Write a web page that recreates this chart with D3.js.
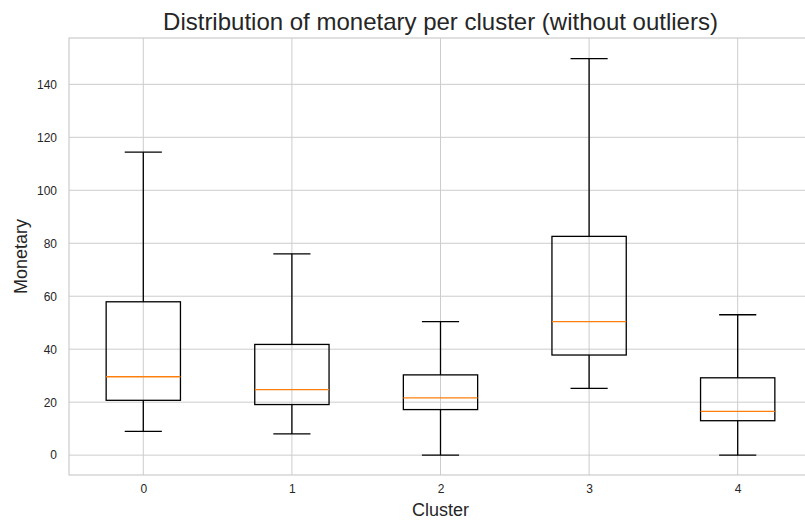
<!DOCTYPE html>
<html>
<head>
<meta charset="utf-8">
<script src="https://cdn.jsdelivr.net/npm/d3@7"></script>
<style>
  body { margin: 0; background: #fff; }
  svg { display: block; font-family: "Liberation Sans", Arial, sans-serif; }
</style>
</head>
<body>
<div id="chart"></div>
<script>
// box statistics per cluster
const clusters = ["0", "1", "2", "3", "4"];
const whiskerLow = [9.0, 8.0, 0.0, 25.2, 0.0];
const q1 = [20.7, 19.1, 17.2, 37.8, 13.0];
const median = [29.6, 24.7, 21.6, 50.4, 16.5];
const q3 = [57.9, 41.8, 30.3, 82.6, 29.2];
const whiskerHigh = [114.4, 76.0, 50.4, 149.7, 53.0];
const yTicks = [0, 20, 40, 60, 80, 100, 120, 140];

var width = 805, height = 521;
var plotLeft = 69, plotRight = 812, plotTop = 38, plotBottom = 475;

var svg = d3.select("#chart").append("svg")
    .attr("width", width)
    .attr("height", height);

// matplotlib-style positions 1..n, xlim [0.5, n+0.5]
var x = d3.scaleLinear()
    .domain([0.5, clusters.length + 0.5])
    .range([plotLeft, plotRight]);
var y = d3.scaleLinear()
    .domain([-7.5, 157.5])
    .range([plotBottom, plotTop]);

var boxW = x(1.25) - x(1);   // half width 0.25
var capW = x(1.125) - x(1);  // half width 0.125

// grid
svg.append("g").selectAll("line")
    .data(yTicks).enter().append("line")
    .attr("x1", plotLeft).attr("x2", plotRight)
    .attr("y1", d => y(d)).attr("y2", d => y(d))
    .attr("stroke", "#cccccc").attr("stroke-width", 1);
svg.append("g").selectAll("line")
    .data(clusters).enter().append("line")
    .attr("x1", (d, i) => x(i + 1)).attr("x2", (d, i) => x(i + 1))
    .attr("y1", plotTop).attr("y2", plotBottom)
    .attr("stroke", "#cccccc").attr("stroke-width", 1);

// frame
svg.append("rect")
    .attr("x", plotLeft).attr("y", plotTop)
    .attr("width", plotRight - plotLeft).attr("height", plotBottom - plotTop)
    .attr("fill", "none").attr("stroke", "#cccccc").attr("stroke-width", 1.2);

// axes (labels only, no tick marks)
var yAxis = svg.append("g")
    .attr("transform", "translate(" + plotLeft + ",0)")
    .call(d3.axisLeft(y).tickValues(yTicks).tickSize(0).tickPadding(12));
var xAxis = svg.append("g")
    .attr("transform", "translate(0," + plotBottom + ")")
    .call(d3.axisBottom(x).tickValues(d3.range(1, clusters.length + 1))
        .tickFormat((d) => clusters[d - 1]).tickSize(0).tickPadding(9));
[yAxis, xAxis].forEach(function (a) {
    a.select(".domain").remove();
    a.selectAll("text")
        .attr("fill", "#262626")
        .style("font-size", "12px")
        .style("font-family", "'Liberation Sans', Arial, sans-serif");
});

// boxes
var g = svg.append("g").selectAll("g")
    .data(clusters).enter().append("g");

g.append("line") // lower whisker
    .attr("x1", (d, i) => x(i + 1)).attr("x2", (d, i) => x(i + 1))
    .attr("y1", (d, i) => y(whiskerLow[i])).attr("y2", (d, i) => y(q1[i]))
    .attr("stroke", "#000").attr("stroke-width", 1.3);
g.append("line") // upper whisker
    .attr("x1", (d, i) => x(i + 1)).attr("x2", (d, i) => x(i + 1))
    .attr("y1", (d, i) => y(q3[i])).attr("y2", (d, i) => y(whiskerHigh[i]))
    .attr("stroke", "#000").attr("stroke-width", 1.3);
g.append("line") // lower cap
    .attr("x1", (d, i) => x(i + 1) - capW).attr("x2", (d, i) => x(i + 1) + capW)
    .attr("y1", (d, i) => y(whiskerLow[i])).attr("y2", (d, i) => y(whiskerLow[i]))
    .attr("stroke", "#000").attr("stroke-width", 1.3);
g.append("line") // upper cap
    .attr("x1", (d, i) => x(i + 1) - capW).attr("x2", (d, i) => x(i + 1) + capW)
    .attr("y1", (d, i) => y(whiskerHigh[i])).attr("y2", (d, i) => y(whiskerHigh[i]))
    .attr("stroke", "#000").attr("stroke-width", 1.3);
g.append("rect")
    .attr("x", (d, i) => x(i + 1) - boxW)
    .attr("y", (d, i) => y(q3[i]))
    .attr("width", 2 * boxW)
    .attr("height", (d, i) => y(q1[i]) - y(q3[i]))
    .attr("fill", "none").attr("stroke", "#000").attr("stroke-width", 1.3);
g.append("line") // median
    .attr("x1", (d, i) => x(i + 1) - boxW).attr("x2", (d, i) => x(i + 1) + boxW)
    .attr("y1", (d, i) => y(median[i])).attr("y2", (d, i) => y(median[i]))
    .attr("stroke", "#ff7f0e").attr("stroke-width", 1.3);

// titles
svg.append("text")
    .attr("x", (plotLeft + plotRight) / 2).attr("y", 30)
    .attr("text-anchor", "middle")
    .attr("fill", "#262626")
    .style("font-size", "24px")
    .text("Distribution of monetary per cluster (without outliers)");
svg.append("text")
    .attr("x", (plotLeft + plotRight) / 2).attr("y", 516)
    .attr("text-anchor", "middle")
    .attr("fill", "#262626")
    .style("font-size", "18px")
    .text("Cluster");
svg.append("text")
    .attr("transform", "translate(27," + (plotTop + plotBottom) / 2 + ") rotate(-90)")
    .attr("text-anchor", "middle")
    .attr("fill", "#262626")
    .style("font-size", "18px")
    .text("Monetary");
</script>
</body>
</html>
